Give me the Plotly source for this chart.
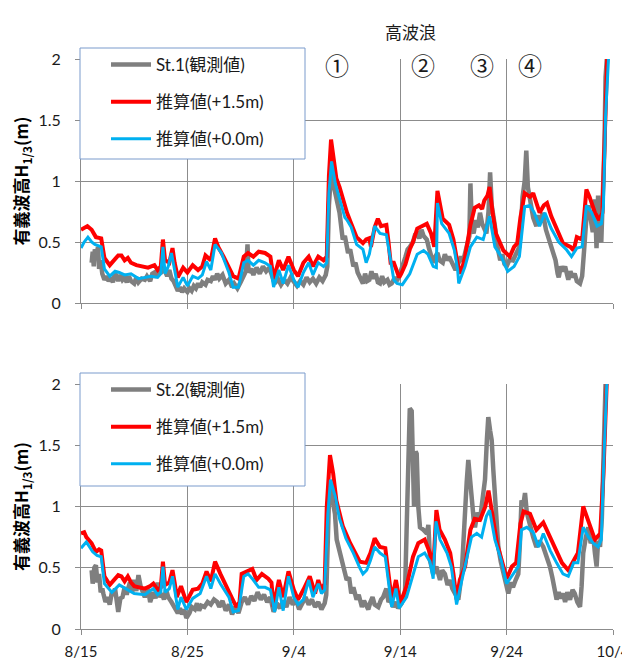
import plotly.graph_objects as go

# ---------------- data (x = days after 8/15) ----------------
tick_days = [0, 10, 20, 30, 40, 50]
tick_labels = ["8/15", "8/25", "9/4", "9/14", "9/24", "10/4"]
y_ticks = [0, 0.5, 1, 1.5, 2]
y_tick_labels = ["0", "0.5", "1", "1.5", "2"]
event_days = [24.06, 32.1, 37.7, 42.2]
event_labels = ["①", "②", "③", "④"]

# Top panel: St.1
t_obs1 = [1.0, 1.1, 1.2, 1.3, 1.45, 1.6, 1.7, 1.85, 2.0, 2.2, 2.4, 2.6, 2.8, 3.0, 3.2, 3.35, 3.5, 3.7, 3.9, 4.1,
          4.3, 4.5, 4.7, 5.0, 5.2, 5.4, 5.7, 6.0, 6.2, 6.5, 6.7, 6.9, 7.1, 7.3, 7.5, 7.7, 7.9, 8.1, 8.3, 8.5,
          8.7, 8.9, 9.1, 9.3, 9.5, 9.7, 10.0, 10.2, 10.4, 10.6, 10.8, 11.0, 11.2, 11.4, 11.7, 11.9, 12.2, 12.4, 12.6, 12.8,
          13.0, 13.3, 13.6, 13.9, 14.2, 14.4, 14.7, 15.0, 15.3, 15.5, 15.65, 15.75, 16.0, 16.2, 16.5, 16.8, 17.1, 17.4, 17.7, 18.0,
          18.2, 18.5, 18.8, 19.1, 19.4, 19.7, 20.0, 20.3, 20.6, 20.9, 21.2, 21.5, 21.8, 22.1, 22.4, 22.7, 23.0, 23.15, 23.3, 23.45,
          23.55, 23.7, 23.9, 24.1, 24.3, 24.6, 24.8, 25.1, 25.3, 25.6, 25.8, 26.0, 26.3, 26.5, 26.7, 26.9, 27.1, 27.3, 27.5, 27.7,
          27.9, 28.1, 28.3, 28.5, 28.8, 29.0, 29.2, 29.5, 29.7, 30.0, 30.2, 30.5, 30.7, 30.9, 31.2, 31.4, 31.6, 31.8, 32.0, 32.2,
          32.5, 32.7, 32.9, 33.1, 33.3, 33.5, 33.7, 34.0, 34.2, 34.4, 34.6, 34.9, 35.2, 35.4, 35.7, 35.9, 36.2, 36.5, 36.6, 36.75,
          36.9, 37.1, 37.3, 37.5, 37.7, 37.9, 38.1, 38.3, 38.45, 38.6, 38.8, 38.9, 39.1, 39.4, 39.6, 39.8, 40.0, 40.3, 40.6, 40.9,
          41.2, 41.4, 41.5, 41.7, 41.85, 42.0, 42.3, 42.5, 42.8, 43.0, 43.2, 43.4, 43.7, 44.0, 44.2, 44.4, 44.6, 44.8, 44.9, 45.1,
          45.3, 45.5, 45.8, 46.0, 46.2, 46.4, 46.6, 46.9, 47.1, 47.3, 47.5, 47.7, 47.9, 48.1, 48.3, 48.45, 48.6, 48.75, 48.9, 49.0,
          49.2, 49.3, 49.5]
h_obs1 = [0.33, 0.42, 0.30, 0.44, 0.40, 0.46, 0.28, 0.35, 0.24, 0.19, 0.22, 0.18, 0.21, 0.17, 0.25, 0.20, 0.18, 0.23, 0.19, 0.21,
          0.17, 0.22, 0.18, 0.16, 0.21, 0.17, 0.20, 0.19, 0.22, 0.18, 0.24, 0.25, 0.21, 0.27, 0.24, 0.30, 0.26, 0.22, 0.27, 0.20,
          0.18, 0.14, 0.10, 0.13, 0.09, 0.12, 0.09, 0.12, 0.10, 0.14, 0.12, 0.16, 0.13, 0.17, 0.15, 0.19, 0.18, 0.22, 0.19, 0.24,
          0.20, 0.23, 0.16, 0.19, 0.13, 0.16, 0.12, 0.17, 0.22, 0.26, 0.48, 0.25, 0.28, 0.23, 0.29, 0.24, 0.30, 0.26, 0.29, 0.22,
          0.16, 0.20, 0.15, 0.19, 0.16, 0.21, 0.17, 0.14, 0.18, 0.15, 0.21, 0.17, 0.20, 0.16, 0.21, 0.18, 0.23, 0.30, 0.80, 1.05,
          1.12, 0.98, 0.90, 0.80, 0.74, 0.52, 0.55, 0.41, 0.44, 0.30, 0.33, 0.25, 0.20, 0.16, 0.24, 0.18, 0.19, 0.26, 0.20, 0.24,
          0.17, 0.16, 0.22, 0.17, 0.19, 0.15, 0.16, 0.21, 0.18, 0.24, 0.30, 0.38, 0.44, 0.46, 0.50, 0.56, 0.57, 0.53, 0.60, 0.55,
          0.52, 0.45, 0.38, 0.33, 0.38, 0.41, 0.35, 0.33, 0.40, 0.35, 0.38, 0.32, 0.27, 0.31, 0.38, 0.34, 0.43, 0.55, 0.98, 0.60,
          0.57, 0.68, 0.62, 0.74, 0.65, 0.60, 0.57, 0.75, 1.07, 0.80, 0.63, 0.63, 0.48, 0.35, 0.40, 0.32, 0.30, 0.36, 0.35, 0.40,
          0.46, 0.70, 0.87, 1.00, 1.25, 0.95, 0.79, 0.70, 0.63, 0.72, 0.66, 0.74, 0.60, 0.52, 0.48, 0.40, 0.35, 0.24, 0.21, 0.30,
          0.26, 0.30, 0.19, 0.26, 0.21, 0.24, 0.18, 0.16, 0.22, 0.45, 0.70, 0.80, 0.65, 0.58, 0.85, 0.45, 0.88, 0.55, 0.50, 0.74,
          1.30, 1.85, 2.10]

t_est15_1 = [0.0, 0.6, 1.0, 1.4, 1.9, 2.2, 2.7, 3.2, 3.5, 3.8, 4.1, 4.4, 4.7, 5.2, 5.6, 6.3, 6.9, 7.2, 7.5, 7.7,
             7.9, 8.3, 8.6, 8.8, 9.1, 9.6, 10.0, 10.5, 11.0, 11.4, 11.7, 12.2, 12.6, 12.9, 13.4, 13.9, 14.3, 14.8, 15.3, 15.7,
             16.2, 16.7, 17.3, 17.8, 18.1, 18.6, 19.0, 19.5, 20.0, 20.4, 20.9, 21.4, 21.8, 22.3, 22.8, 23.1, 23.3, 23.5, 23.7, 24.0,
             24.3, 24.8, 25.0, 25.4, 25.9, 26.5, 26.8, 27.1, 27.25, 27.6, 27.9, 28.2, 28.7, 28.9, 29.1, 29.4, 29.7, 29.9, 30.1, 30.5,
             30.9, 31.2, 31.6, 32.0, 32.5, 32.9, 33.2, 33.5, 33.7, 34.0, 34.6, 35.0, 35.4, 35.7, 36.1, 36.6, 37.0, 37.4, 37.7, 37.9,
             38.2, 38.4, 38.7, 39.0, 39.7, 40.3, 40.7, 41.0, 41.3, 41.7, 42.2, 42.5, 42.8, 43.1, 43.5, 43.8, 44.2, 44.9, 45.3, 46.0,
             46.3, 46.6, 47.1, 47.5, 47.8, 48.3, 48.7, 49.0, 49.2, 49.45, 49.7]
h_est15_1 = [0.60, 0.63, 0.60, 0.54, 0.53, 0.37, 0.31, 0.36, 0.39, 0.39, 0.35, 0.37, 0.33, 0.31, 0.30, 0.29, 0.31, 0.27, 0.30, 0.52,
             0.35, 0.33, 0.45, 0.33, 0.21, 0.29, 0.25, 0.31, 0.27, 0.30, 0.39, 0.35, 0.53, 0.46, 0.38, 0.30, 0.22, 0.20, 0.38, 0.41,
             0.38, 0.42, 0.41, 0.38, 0.20, 0.35, 0.27, 0.38, 0.27, 0.22, 0.33, 0.38, 0.30, 0.38, 0.35, 0.38, 1.04, 1.34, 1.23, 1.02,
             0.95, 0.78, 0.74, 0.65, 0.54, 0.49, 0.52, 0.53, 0.46, 0.62, 0.69, 0.63, 0.64, 0.50, 0.33, 0.33, 0.27, 0.21, 0.24, 0.32,
             0.44, 0.50, 0.61, 0.63, 0.65, 0.57, 0.46, 0.92, 0.84, 0.69, 0.64, 0.52, 0.32, 0.24, 0.38, 0.64, 0.78, 0.80, 0.77, 0.84,
             0.88, 0.95, 0.73, 0.57, 0.43, 0.38, 0.46, 0.49, 0.70, 0.90, 0.87, 0.90, 0.82, 0.74, 0.80, 0.82, 0.71, 0.57, 0.49, 0.46,
             0.43, 0.54, 0.52, 0.93, 0.87, 0.74, 0.68, 0.74, 1.24, 1.99, 2.30]

t_est00_1 = [0.0, 0.3, 0.65, 1.0, 1.3, 1.9, 2.2, 2.7, 3.2, 3.6, 4.1, 4.7, 5.4, 6.0, 6.6, 7.2, 7.5, 7.7, 7.9, 8.2,
             8.5, 8.8, 9.1, 9.6, 10.0, 10.5, 11.0, 11.4, 11.8, 12.2, 12.6, 13.2, 13.9, 14.3, 14.8, 15.3, 15.7, 16.2, 16.7, 17.3,
             17.8, 18.1, 18.6, 19.0, 19.5, 20.0, 20.4, 20.9, 21.4, 21.8, 22.3, 22.8, 23.1, 23.3, 23.55, 23.9, 24.3, 24.8, 25.0, 25.4,
             25.9, 26.5, 26.8, 27.1, 27.6, 28.1, 28.7, 29.0, 29.4, 29.7, 30.2, 30.9, 31.6, 32.2, 32.6, 33.1, 33.4, 33.5, 33.9, 34.6,
             35.1, 35.4, 35.5, 36.1, 36.6, 37.2, 37.8, 38.4, 38.9, 39.5, 40.1, 40.7, 41.2, 41.7, 42.2, 42.6, 43.1, 43.6, 44.2, 44.9,
             45.6, 46.1, 46.6, 47.1, 47.5, 48.0, 48.5, 48.9, 49.1, 49.3, 49.6, 49.75]
h_est00_1 = [0.45, 0.50, 0.54, 0.50, 0.48, 0.46, 0.28, 0.22, 0.26, 0.25, 0.23, 0.24, 0.20, 0.21, 0.22, 0.21, 0.24, 0.46, 0.24, 0.30,
             0.41, 0.27, 0.13, 0.21, 0.14, 0.22, 0.20, 0.23, 0.34, 0.27, 0.48, 0.41, 0.25, 0.13, 0.13, 0.33, 0.35, 0.31, 0.35, 0.33,
             0.30, 0.13, 0.27, 0.16, 0.31, 0.19, 0.13, 0.25, 0.33, 0.23, 0.33, 0.30, 0.33, 0.90, 1.16, 0.98, 0.85, 0.70, 0.68, 0.62,
             0.48, 0.44, 0.33, 0.40, 0.63, 0.57, 0.56, 0.40, 0.19, 0.16, 0.15, 0.24, 0.40, 0.43, 0.40, 0.30, 0.29, 0.82, 0.65, 0.57,
             0.43, 0.27, 0.16, 0.30, 0.46, 0.54, 0.52, 0.71, 0.46, 0.38, 0.26, 0.30, 0.38, 0.79, 0.80, 0.74, 0.63, 0.74, 0.61, 0.50,
             0.44, 0.38, 0.45, 0.46, 0.80, 0.74, 0.63, 0.65, 0.79, 1.53, 2.00, 2.30]

# Bottom panel: St.2
t_obs2 = [1.0, 1.1, 1.25, 1.4, 1.55, 1.7, 1.85, 2.0, 2.1, 2.3, 2.5, 2.7, 2.9, 3.0, 3.2, 3.35, 3.5, 3.7, 3.9, 4.1,
          4.3, 4.4, 4.6, 4.8, 5.0, 5.2, 5.4, 5.6, 5.8, 6.0, 6.3, 6.5, 6.8, 7.0, 7.2, 7.4, 7.6, 7.8, 8.0, 8.2,
          8.5, 8.8, 9.1, 9.3, 9.5, 9.7, 9.9, 10.2, 10.4, 10.7, 10.9, 11.1, 11.3, 11.6, 11.9, 12.2, 12.5, 12.8, 13.0, 13.3,
          13.6, 13.9, 14.2, 14.5, 14.8, 15.1, 15.4, 15.7, 16.0, 16.3, 16.6, 16.9, 17.2, 17.5, 17.8, 18.1, 18.4, 18.7, 19.0, 19.3,
          19.6, 19.9, 20.2, 20.5, 20.8, 21.1, 21.4, 21.7, 22.0, 22.3, 22.6, 22.9, 23.05, 23.2, 23.35, 23.5, 23.7, 23.87, 24.03, 24.3,
          24.5, 24.75, 24.97, 25.2, 25.4, 25.6, 25.9, 26.1, 26.4, 26.6, 26.8, 27.0, 27.2, 27.4, 27.6, 27.94, 28.2, 28.4, 28.7, 28.9,
          29.04, 29.35, 29.6, 29.8, 30.14, 30.45, 30.6, 30.76, 30.9, 31.08, 31.2, 31.3, 31.45, 31.55, 31.7, 31.86, 32.17, 32.5, 32.65, 32.8,
          33.1, 33.4, 33.74, 33.95, 34.2, 34.45, 34.68, 34.9, 35.15, 35.46, 35.78, 35.95, 36.09, 36.25, 36.4, 36.55, 36.72, 36.9, 37.03, 37.25,
          37.5, 37.75, 37.97, 38.15, 38.28, 38.45, 38.6, 38.75, 38.9, 39.05, 39.22, 39.45, 39.69, 39.9, 40.16, 40.4, 40.6, 40.85, 41.1, 41.25,
          41.4, 41.55, 41.73, 41.9, 42.2, 42.5, 42.8, 43.1, 43.45, 43.75, 44.07, 44.3, 44.5, 44.7, 44.9, 45.1, 45.3, 45.5, 45.7, 45.96,
          46.2, 46.4, 46.65, 46.9, 47.05, 47.2, 47.45, 47.68, 47.9, 48.15, 48.3, 48.46, 48.6, 48.78, 48.95, 49.1, 49.3, 49.45]
h_obs2 = [0.48, 0.37, 0.50, 0.52, 0.38, 0.45, 0.30, 0.33, 0.29, 0.22, 0.26, 0.20, 0.30, 0.27, 0.33, 0.22, 0.14, 0.25, 0.26, 0.34,
          0.28, 0.32, 0.38, 0.30, 0.40, 0.31, 0.44, 0.35, 0.30, 0.26, 0.33, 0.22, 0.30, 0.25, 0.38, 0.26, 0.29, 0.24, 0.32, 0.26,
          0.22, 0.18, 0.13, 0.17, 0.12, 0.16, 0.09, 0.13, 0.18, 0.16, 0.21, 0.15, 0.19, 0.18, 0.22, 0.20, 0.24, 0.22, 0.18, 0.23,
          0.15, 0.20, 0.12, 0.18, 0.13, 0.22, 0.26, 0.20, 0.27, 0.23, 0.30, 0.24, 0.28, 0.22, 0.26, 0.14, 0.21, 0.17, 0.23, 0.18,
          0.26, 0.20, 0.24, 0.16, 0.22, 0.26, 0.20, 0.24, 0.18, 0.22, 0.16, 0.21, 0.28, 0.95, 1.19, 1.12, 1.02, 0.94, 0.73, 0.64,
          0.59, 0.48, 0.40, 0.42, 0.29, 0.34, 0.24, 0.28, 0.18, 0.23, 0.19, 0.16, 0.22, 0.26, 0.20, 0.18, 0.24, 0.26, 0.33, 0.22,
          0.24, 0.18, 0.22, 0.17, 0.21, 0.29, 0.80, 1.54, 1.80, 1.78, 1.20, 1.00, 1.45, 1.43, 1.00, 0.83, 0.81, 0.78, 0.85, 0.56,
          0.45, 0.51, 0.40, 0.48, 0.45, 0.36, 0.40, 0.33, 0.29, 0.24, 0.45, 0.78, 1.00, 1.20, 1.38, 1.20, 1.08, 0.90, 0.83, 0.95,
          0.89, 1.05, 1.22, 1.55, 1.73, 1.62, 1.54, 1.30, 1.13, 0.85, 0.67, 0.55, 0.45, 0.36, 0.29, 0.38, 0.34, 0.40, 0.45, 0.70,
          1.05, 1.00, 1.11, 0.95, 0.83, 0.75, 0.67, 0.72, 0.67, 0.60, 0.51, 0.42, 0.33, 0.24, 0.30, 0.25, 0.29, 0.22, 0.30, 0.24,
          0.32, 0.29, 0.22, 0.18, 0.35, 0.62, 0.75, 0.83, 0.70, 0.75, 0.62, 0.51, 0.72, 0.67, 0.90, 1.54, 2.00, 2.20]

t_est15_2 = [0.0, 0.3, 0.5, 1.0, 1.4, 1.7, 1.9, 2.2, 2.7, 3.1, 3.5, 3.8, 4.1, 4.4, 4.7, 5.0, 5.5, 6.0, 6.5, 6.8,
             7.2, 7.5, 7.7, 7.9, 8.3, 8.6, 8.8, 9.0, 9.4, 9.9, 10.5, 11.0, 11.4, 11.8, 12.2, 12.6, 13.1, 13.7, 14.2, 14.6,
             14.9, 15.1, 15.6, 16.1, 16.5, 17.0, 17.6, 17.9, 18.1, 18.6, 19.0, 19.5, 20.0, 20.4, 20.9, 21.5, 22.0, 22.3, 22.6, 22.9,
             23.1, 23.4, 23.7, 24.0, 24.6, 25.3, 26.2, 26.8, 27.2, 27.6, 28.1, 28.6, 28.9, 29.2, 29.6, 30.0, 30.6, 31.2, 31.7, 32.3,
             32.8, 33.1, 33.4, 33.7, 34.2, 34.7, 35.0, 35.3, 35.6, 36.1, 36.6, 37.0, 37.5, 38.0, 38.3, 38.6, 39.1, 39.7, 40.0, 40.5,
             40.9, 41.3, 41.6, 42.2, 42.8, 43.45, 43.9, 44.55, 45.2, 45.8, 46.3, 46.7, 47.2, 47.7, 48.3, 48.8, 49.1, 49.4, 49.6]
h_est15_2 = [0.78, 0.79, 0.75, 0.70, 0.63, 0.65, 0.64, 0.43, 0.36, 0.40, 0.44, 0.43, 0.39, 0.43, 0.38, 0.35, 0.34, 0.33, 0.35, 0.37,
             0.32, 0.34, 0.55, 0.36, 0.38, 0.48, 0.38, 0.26, 0.35, 0.22, 0.32, 0.33, 0.37, 0.47, 0.39, 0.55, 0.45, 0.35, 0.25, 0.18,
             0.22, 0.45, 0.47, 0.49, 0.40, 0.45, 0.41, 0.38, 0.18, 0.40, 0.26, 0.47, 0.32, 0.24, 0.32, 0.43, 0.29, 0.40, 0.32, 0.37,
             1.00, 1.42, 1.27, 1.05, 0.84, 0.70, 0.55, 0.54, 0.62, 0.74, 0.67, 0.66, 0.45, 0.24, 0.40, 0.21, 0.35, 0.59, 0.70, 0.73,
             0.62, 0.48, 0.97, 0.81, 0.73, 0.62, 0.45, 0.24, 0.40, 0.51, 0.81, 0.90, 0.89, 1.00, 1.13, 0.97, 0.70, 0.51, 0.41, 0.51,
             0.54, 0.86, 0.96, 0.94, 0.81, 0.87, 0.78, 0.65, 0.54, 0.48, 0.56, 0.62, 1.00, 0.87, 0.73, 0.78, 1.27, 1.98, 2.30]

t_est00_2 = [0.0, 0.5, 1.1, 1.5, 1.9, 2.2, 2.9, 3.6, 4.2, 5.0, 6.0, 6.8, 7.2, 7.5, 7.7, 7.9, 8.3, 8.6, 9.1, 9.4,
             9.9, 10.5, 11.2, 11.8, 12.2, 12.6, 13.1, 13.9, 14.3, 14.8, 15.3, 15.7, 16.2, 16.7, 17.3, 17.8, 18.2, 18.6, 19.0, 19.5,
             20.0, 20.4, 20.9, 21.4, 21.8, 22.3, 22.6, 22.9, 23.2, 23.45, 23.9, 24.3, 24.9, 25.6, 26.2, 26.5, 26.85, 27.2, 27.6, 28.1,
             28.6, 28.9, 29.2, 29.6, 29.9, 30.6, 31.2, 31.7, 32.3, 32.8, 33.1, 33.36, 33.74, 34.4, 34.8, 35.3, 35.8, 36.2, 36.7, 37.2,
             37.65, 38.1, 38.4, 38.9, 39.5, 40.0, 40.6, 41.1, 41.4, 41.9, 42.5, 43.0, 43.45, 44.1, 44.7, 45.3, 45.8, 46.3, 46.7, 47.2,
             47.7, 48.15, 48.6, 48.9, 49.15, 49.4, 49.55]
h_est00_2 = [0.66, 0.71, 0.63, 0.60, 0.59, 0.37, 0.30, 0.36, 0.33, 0.29, 0.28, 0.33, 0.28, 0.30, 0.51, 0.30, 0.33, 0.43, 0.16, 0.26,
             0.16, 0.25, 0.29, 0.43, 0.33, 0.45, 0.37, 0.26, 0.14, 0.15, 0.43, 0.45, 0.40, 0.34, 0.34, 0.32, 0.14, 0.34, 0.15, 0.43,
             0.26, 0.20, 0.24, 0.40, 0.26, 0.37, 0.29, 0.32, 0.94, 1.22, 1.08, 0.90, 0.74, 0.62, 0.50, 0.45, 0.48, 0.56, 0.67, 0.62,
             0.59, 0.40, 0.18, 0.33, 0.17, 0.26, 0.45, 0.59, 0.62, 0.55, 0.41, 0.88, 0.73, 0.62, 0.51, 0.20, 0.40, 0.56, 0.75, 0.78,
             0.75, 0.92, 0.97, 0.73, 0.56, 0.37, 0.45, 0.51, 0.81, 0.83, 0.79, 0.67, 0.78, 0.64, 0.54, 0.45, 0.43, 0.54, 0.54, 0.83,
             0.75, 0.70, 0.67, 0.73, 1.41, 2.00, 2.30]

# ---------------- figure ----------------
PAGE_OFF = 8                     # default body margin of the html page
W, H = 630 - PAGE_OFF, 668 - 2 * PAGE_OFF
# plot area in page pixels: x 81..613, y 59..629
ML, MT = 81 - PAGE_OFF, 59 - PAGE_OFF
MR, MB = W - (613 - PAGE_OFF), H - (629 - PAGE_OFF)
PW, PH = W - ML - MR, H - MT - MB


def px_x(px):
    return (px - PAGE_OFF - ML) / PW


def px_y(py):
    return (H - MB - (py - PAGE_OFF)) / PH


GRAY, RED, BLUE = "#7f7f7f", "#ff0000", "#00b0f0"
FONT = "Lato, 'Noto Sans CJK JP', sans-serif"
JFONT = "'Noto Sans CJK JP', sans-serif"

fig = go.Figure()
panels = [
    ("x", "y", "legend", "St.1(観測値)", t_obs1, h_obs1, t_est15_1, h_est15_1, t_est00_1, h_est00_1),
    ("x2", "y2", "legend2", "St.2(観測値)", t_obs2, h_obs2, t_est15_2, h_est15_2, t_est00_2, h_est00_2),
]
for xa, ya, lg, obs_name, to, ho, tr, hr, tb, hb in panels:
    fig.add_trace(go.Scatter(x=to, y=ho, mode="lines", name=obs_name, line=dict(color=GRAY, width=4.5),
                             xaxis=xa, yaxis=ya, legend=lg, legendgroup=lg + "a"))
    fig.add_trace(go.Scatter(x=tr, y=hr, mode="lines", name="推算値(+1.5m)", line=dict(color=RED, width=4),
                             xaxis=xa, yaxis=ya, legend=lg, legendgroup=lg + "b"))
    fig.add_trace(go.Scatter(x=tb, y=hb, mode="lines", name="推算値(+0.0m)", line=dict(color=BLUE, width=3),
                             xaxis=xa, yaxis=ya, legend=lg, legendgroup=lg + "c"))

AX = "#8c8c8c"
xcommon = dict(range=[0, 50], tickmode="array", tickvals=tick_days, ticktext=tick_labels,
               showgrid=True, gridcolor=AX, gridwidth=1, showline=True, linecolor=AX, linewidth=1,
               ticks="outside", ticklen=5, tickcolor=AX, zeroline=False, fixedrange=True,
               tickfont=dict(family=FONT, size=15, color="#1a1a1a"), ticklabelstandoff=4,
               ticklabeloverflow="allow")
ycommon = dict(range=[0, 2], tickmode="array", tickvals=y_ticks, ticktext=y_tick_labels,
               showgrid=True, gridcolor=AX, gridwidth=1, showline=True, linecolor=AX, linewidth=1,
               ticks="outside", ticklen=5, tickcolor=AX, zeroline=False, fixedrange=True,
               tickfont=dict(family=FONT, size=16, color="#1a1a1a"), ticklabelstandoff=11,
               title=dict(text="<b>有義波高H<sub>1/3</sub>(m)</b>", font=dict(family=JFONT, size=17, color="black"),
                          standoff=5))

top_dom = [px_y(303), 1.0]
bot_dom = [0.0, px_y(384)]

fig.update_layout(
    width=W, height=H, autosize=False,
    margin=dict(l=ML, r=MR, t=MT, b=MB, autoexpand=False),
    paper_bgcolor="white", plot_bgcolor="white",
    xaxis=dict(xcommon, anchor="y", domain=[0, 1], showticklabels=False),
    yaxis=dict(ycommon, anchor="x", domain=top_dom),
    xaxis2=dict(xcommon, anchor="y2", domain=[0, 1]),
    yaxis2=dict(ycommon, anchor="x2", domain=bot_dom),
    showlegend=True,
    legend=dict(x=px_x(106), y=px_y(47), xanchor="left", yanchor="top", bgcolor="rgba(0,0,0,0)",
                borderwidth=0, tracegroupgap=12, itemwidth=40,
                font=dict(family=FONT, size=17, color="#1a1a1a")),
    legend2=dict(x=px_x(106), y=px_y(372), xanchor="left", yanchor="top", bgcolor="rgba(0,0,0,0)",
                 borderwidth=0, tracegroupgap=12, itemwidth=40,
                 font=dict(family=FONT, size=17, color="#1a1a1a")),
    hovermode=False,
)

# legend frames
for top_px, bot_px in [(48, 159), (373, 486)]:
    fig.add_shape(type="rect", xref="paper", yref="paper",
                  x0=px_x(80), x1=px_x(305), y0=px_y(bot_px), y1=px_y(top_px),
                  fillcolor="white", line=dict(color="#7b9bcc", width=1), layer="above")

# annotations
fig.add_annotation(text="高波浪", xref="paper", yref="paper", x=px_x(438), y=px_y(17),
                   showarrow=False, font=dict(family=JFONT, size=17, color="#1a1a1a"))
for d, lab in zip(event_days, event_labels):
    fig.add_annotation(text=lab, xref="x", yref="paper", x=d, y=px_y(45),
                       showarrow=False, font=dict(family=JFONT, size=24, color="#1a1a1a"))

fig.write_html("out.html")
